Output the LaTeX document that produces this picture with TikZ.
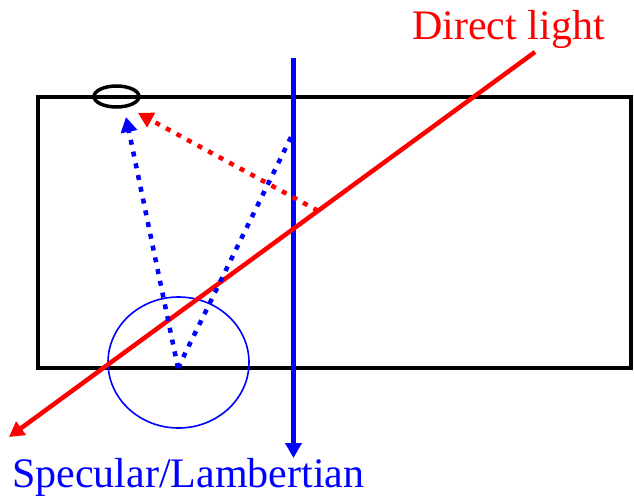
\documentclass[tikz,border=0pt]{standalone}
\usepackage{fontspec}
\setmainfont{Liberation Serif}
\usetikzlibrary{arrows.meta,calc,shapes.geometric}
\definecolor{RedClr}{RGB}{255,0,0}
\definecolor{BlueClr}{RGB}{0,0,255}
\tikzset{
  beam/.style={line width=4.5pt},
  dotbeam/.style={line width=4.5pt,dash pattern=on 5pt off 7pt},
  tip/.style={-{Triangle[length=15pt,width=16pt]}},
  lbl/.style={font=\fontsize{42}{48}\selectfont,inner sep=0pt}
}
\begin{document}
\begin{tikzpicture}[x=1pt,y=-1pt]
\useasboundingbox (0,0) rectangle (634,497);

% box and sensor
\coordinate (BoxNW) at (38,97);
\coordinate (BoxSE) at (631,368);
\draw[line width=4pt] (BoxNW) rectangle (BoxSE);
\node[draw,line width=3.5pt,ellipse,minimum width=45pt,minimum height=21pt,inner sep=0pt] (Sensor) at (116.5,96.5) {};

% reflection lobe
\coordinate (Hit) at (178,368);
\draw[BlueClr,line width=1.6pt] (178.5,362.5) ellipse [x radius=70.5,y radius=65.5];

% vertical beam
\coordinate (VTop) at (293.5,58);
\coordinate (VBot) at (293.5,458);
\draw[BlueClr,beam,tip] (VTop) -- (VBot);

% direct light
\coordinate (DTop) at (535,52);
\coordinate (DBot) at (9,437);
\draw[RedClr,beam,tip] (DTop) -- (DBot);

% reflected rays
\coordinate (SensL) at (126,117);
\coordinate (SensR) at (138,113);
\coordinate (VHit) at (292,135);
\coordinate (DHit) at ($(DTop)!0.4125!(DBot)$);
\draw[BlueClr,dotbeam,tip] (Hit) -- (SensL);
\draw[BlueClr,dotbeam] (Hit) -- (VHit);
\draw[RedClr,dotbeam,tip] (DHit) -- (SensR);

% labels
\node[lbl,RedClr,anchor=base west] (DirLbl) at (412,40) {Direct light};
\node[lbl,BlueClr,anchor=base west] (SpecLbl) at (12,487) {Specular/Lambertian};
\end{tikzpicture}
\end{document}
